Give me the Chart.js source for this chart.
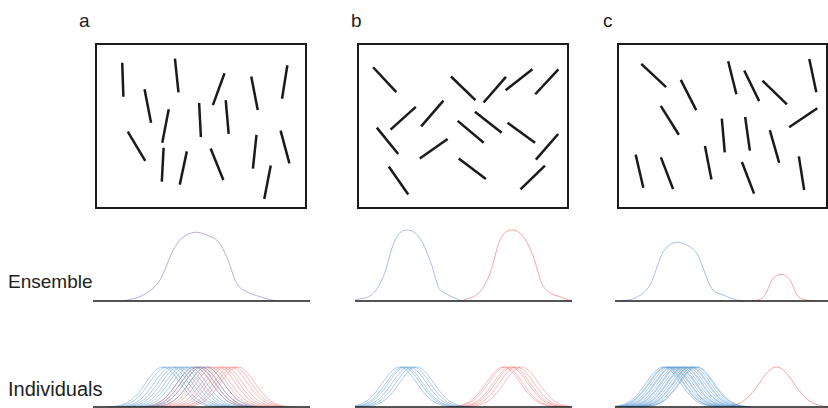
<!DOCTYPE html>
<html>
<head>
<meta charset="utf-8">
<script src="https://cdn.jsdelivr.net/npm/chart.js@4.4.1/dist/chart.umd.min.js"></script>
<style>
  body { margin: 0; width: 828px; height: 408px; overflow: hidden; background: #fff; position: relative;
         font-family: "Liberation Sans", Arial, sans-serif; color: #222; }
  .lbl { position: absolute; font-size: 19px; line-height: 19px; white-space: nowrap; }
  .box { position: absolute; top: 43px; height: 166px; box-sizing: border-box; border: 2px solid #1a1a1a; }
  canvas { position: absolute; }
</style>
</head>
<body>
<div class="lbl" style="left:79px;top:11px">a</div>
<div class="lbl" style="left:351px;top:11px">b</div>
<div class="lbl" style="left:603px;top:11px">c</div>
<div class="lbl" style="left:8px;top:272px">Ensemble</div>
<div class="lbl" style="left:8px;top:379px;font-size:20px;line-height:20px">Individuals</div>

<div class="box" style="left:95px;width:212px"></div>
<div class="box" style="left:357px;width:212px"></div>
<div class="box" style="left:617px;width:211px"></div>

<canvas id="stimA" width="212" height="166" style="left:95px;top:43px"></canvas>
<canvas id="stimB" width="212" height="166" style="left:357px;top:43px"></canvas>
<canvas id="stimC" width="211" height="166" style="left:617px;top:43px"></canvas>

<canvas id="ensA" width="217" height="82" style="left:93px;top:220px"></canvas>
<canvas id="ensB" width="217" height="82" style="left:355px;top:220px"></canvas>
<canvas id="ensC" width="217" height="82" style="left:615px;top:220px"></canvas>

<canvas id="indA" width="217" height="51" style="left:93px;top:357px"></canvas>
<canvas id="indB" width="217" height="51" style="left:355px;top:357px"></canvas>
<canvas id="indC" width="217" height="51" style="left:615px;top:357px"></canvas>

<script>
// stimulus bars: [x, y, tilt from vertical in degrees], x/y in box units
const barsA = [
  [27.8, 36.7, -2], [81.7, 32.5, -6], [123.7, 46.2, 20], [159.5, 50.3, -11], [189.7, 39, 9],
  [52.8, 63, -11], [70.5, 83, 11], [105, 77, -3], [132.2, 74, -5], [41.5, 103.3, -31],
  [67.7, 121.7, 3], [88.3, 125, 12], [122, 121.2, -22], [159.7, 108.7, 6], [190, 104, -15],
  [172.5, 139.3, 11]
];
const barsB = [
  [27.7, 36.7, -43], [106.2, 45.3, -46], [137.8, 46.7, 41], [162, 36.8, 52], [189.8, 38.8, 43],
  [46.2, 75.2, 48], [75.3, 70.5, 41], [131.3, 79.2, -52], [30.5, 97.8, -39], [113.7, 88.8, -50],
  [164.3, 89.8, -54], [76.7, 105.8, 55], [190, 103.8, 41], [41.5, 137.5, -35], [115.3, 125.8, -53],
  [175.7, 134.5, 46]
];
const barsC = [
  [36.7, 32.5, -47], [71.5, 52, -27], [115.3, 34.8, -14], [134.7, 42.8, -26], [157.7, 49.5, -46],
  [195.8, 32.7, -12], [52.8, 77.3, -32], [106.3, 92.5, -5], [130.5, 90.8, -8], [186.2, 74.8, 56],
  [157.5, 103.5, -16], [22.5, 128.2, -13], [50, 130.2, -21], [91.2, 119.7, -11], [131, 134.8, -21],
  [184.5, 130.2, -9]
];

// ensemble tuning curves (orientation in deg, normalised response)
const ensA_x = [-64.3, -48.3, -34.4, -23.4, -16.4, -4.0, 4.3, 13.9, 20.9, 29.2, 37.5, 48.5, 61.0];
const ensA_y = [0, 0.085, 0.296, 0.718, 0.883, 0.968, 0.930, 0.835, 0.624, 0.249, 0.131, 0.061, 0];
const ensBblue_x = [-90, -74.8, -66.5, -56.8, -47.1, -36.1, -26.4, -20.9, -13.9, -1.5];
const ensBblue_y = [0.014, 0.108, 0.342, 0.859, 1.0, 0.883, 0.507, 0.201, 0.099, 0.0];
const ensBred_x = [-1.5, 13.7, 22.0, 30.3, 40.5, 49.6, 57.9, 64.9, 70.3, 80.0, 89.7];
const ensBred_y = [0, 0.131, 0.39, 0.859, 1.0, 0.906, 0.624, 0.249, 0.131, 0.061, 0];
const ensCblue_x = [-84.4, -72.0, -61.0, -49.9, -37.5, -30.5, -22.2, -9.8, -0.2, 10.9, 16.4];
const ensCblue_y = [0, 0.052, 0.225, 0.694, 0.827, 0.789, 0.672, 0.179, 0.085, 0.014, 0];
const ensCred_x = [23.4, 33.0, 41.3, 47.8, 55.2, 62.1, 74.5];
const ensCred_y = [0, 0.052, 0.320, 0.376, 0.296, 0.061, 0];

// individual neurons: preferred orientations (deg), common tuning width
const indAblue = [-32, -29, -25, -22, -19, -16, -13, -10, -6, -3, 0, 4];
const indAred = [-6, -3, 0, 4, 7, 10, 14, 17, 20, 24, 27, 30];
const indBblue = [-53, -50, -48, -45, -42, -39];
const indBred = [33, 35, 39, 41, 44, 48];
const indCblue = [-50, -48, -47, -45, -43, -42, -40, -38, -37, -35, -33, -32, -30, -28, -27, -25, -23, -22];
const indCred = [44];
const tuningWidth = 14.1;

const BAR_LEN = 34;
const INK = '#1a1a1a';

function barSets(bars) {
  return bars.map(([x, y, tilt]) => {
    const r = tilt * Math.PI / 180;
    const dx = BAR_LEN / 2 * Math.sin(r), dy = BAR_LEN / 2 * Math.cos(r);
    return {
      data: [{ x: x + dx, y: y - dy }, { x: x - dx, y: y + dy }],
      borderColor: INK, borderWidth: 2.5, borderCapStyle: 'butt'
    };
  });
}

function curve(xs, ys, color) {
  return {
    data: xs.map((x, i) => ({ x: x, y: ys[i] })),
    borderColor: color, borderWidth: 1, cubicInterpolationMode: 'monotone'
  };
}

// a single neuron's curve, drawn out to about 3 widths each side
function tuning(mu, color) {
  const pts = [];
  const reach = 3.2 * tuningWidth;
  for (let x = Math.max(-90, mu - reach); x <= Math.min(90, mu + reach); x += 1) {
    pts.push({ x: x, y: Math.exp(-0.5 * Math.pow((x - mu) / tuningWidth, 2)) });
  }
  return { data: pts, borderColor: color, borderWidth: 1 };
}

// first dataset is painted on top in Chart.js
const baseline = {
  data: [{ x: -90, y: 0 }, { x: 90, y: 0 }],
  borderColor: INK, borderWidth: 1.5
};

function makeChart(id, datasets, xr, yr, reverse) {
  new Chart(document.getElementById(id), {
    type: 'scatter',
    data: { datasets: datasets },
    options: {
      responsive: false,
      animation: false,
      devicePixelRatio: 1,
      layout: { padding: 0 },
      showLine: true,
      elements: { point: { radius: 0 }, line: { tension: 0 } },
      plugins: { legend: { display: false }, tooltip: { enabled: false } },
      scales: {
        x: { type: 'linear', display: false, min: xr[0], max: xr[1] },
        y: { type: 'linear', display: false, min: yr[0], max: yr[1], reverse: !!reverse }
      }
    }
  });
}

makeChart('stimA', barSets(barsA), [0, 212], [0, 166], true);
makeChart('stimB', barSets(barsB), [0, 212], [0, 166], true);
makeChart('stimC', barSets(barsC), [0, 211], [0, 166], true);

const ENS_Y = [-0.014, 1.141];
const BLUE_E = 'rgba(140,165,225,0.75)';
const RED_E = 'rgba(245,140,140,0.8)';
makeChart('ensA', [baseline, curve(ensA_x, ensA_y, 'rgba(175,155,215,0.85)')], [-90, 90], ENS_Y);
makeChart('ensB', [baseline, curve(ensBblue_x, ensBblue_y, BLUE_E), curve(ensBred_x, ensBred_y, RED_E)], [-90, 90], ENS_Y);
makeChart('ensC', [baseline, curve(ensCblue_x, ensCblue_y, BLUE_E), curve(ensCred_x, ensCred_y, RED_E)], [-90, 90], ENS_Y);

const IND_Y = [-0.025, 1.25];
const BLUE_I = 'rgba(70,140,205,0.45)';
const RED_I = 'rgba(240,100,100,0.45)';
makeChart('indA', [baseline].concat(indAblue.map(m => tuning(m, BLUE_I)), indAred.map(m => tuning(m, RED_I))), [-90, 90], IND_Y);
makeChart('indB', [baseline].concat(indBblue.map(m => tuning(m, BLUE_I)), indBred.map(m => tuning(m, RED_I))), [-90, 90], IND_Y);
makeChart('indC', [baseline].concat(indCblue.map(m => tuning(m, BLUE_I)), indCred.map(m => tuning(m, 'rgba(245,130,130,0.75)'))), [-90, 90], IND_Y);
</script>
</body>
</html>
